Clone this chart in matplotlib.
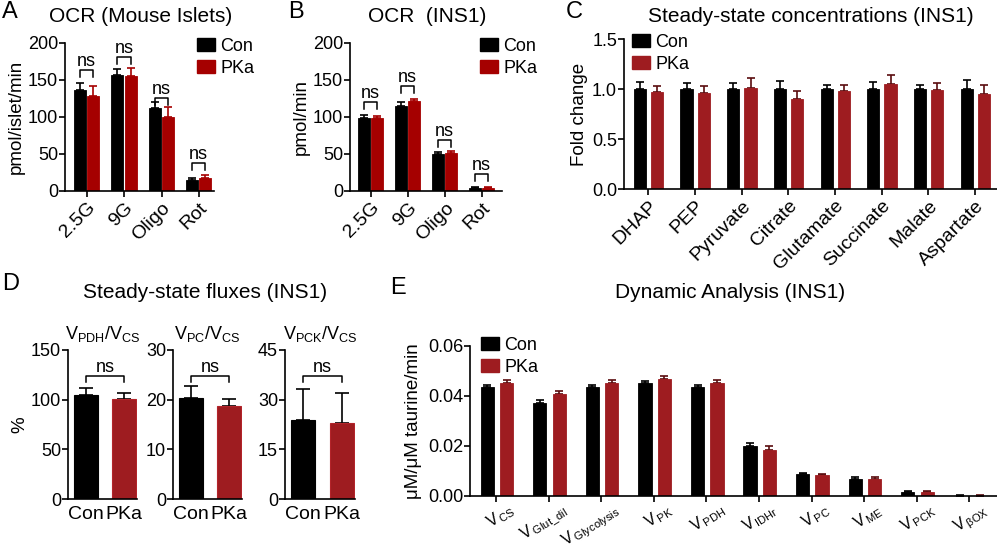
import numpy as np
import matplotlib.pyplot as plt
import matplotlib.transforms as mtransforms
from matplotlib.patches import Patch

plt.rcParams['font.family'] = ['Liberation Sans', 'DejaVu Sans']
plt.rcParams['mathtext.default'] = 'regular'

# ---- data ----
ocr_groups = ['2.5G', '9G', 'Oligo', 'Rot']
islet_con = [136, 157, 112, 15]
islet_con_err = [10, 8, 8, 3]
islet_pka = [129, 155, 100, 18]
islet_pka_err = [13, 11, 13, 3]
islet_ns = [163, 181, 125, 38]

ins1_con = [99, 115, 50, 4]
ins1_con_err = [4, 5, 3, 2]
ins1_pka = [99, 121, 51, 4]
ins1_pka_err = [3, 3, 3, 2]
ins1_ns = [120, 142, 69, 23]

metabolites = ['DHAP', 'PEP', 'Pyruvate', 'Citrate', 'Glutamate', 'Succinate', 'Malate', 'Aspartate']
conc_con = [1.0, 1.0, 1.0, 1.0, 1.0, 1.0, 1.0, 1.0]
conc_con_err = [0.07, 0.06, 0.06, 0.08, 0.04, 0.07, 0.04, 0.09]
conc_pka = [0.97, 0.96, 1.01, 0.90, 0.98, 1.05, 0.99, 0.95]
conc_pka_err = [0.06, 0.07, 0.10, 0.08, 0.06, 0.09, 0.07, 0.09]

flux_titles = ['V$_{PDH}$/V$_{CS}$', 'V$_{PC}$/V$_{CS}$', 'V$_{PCK}$/V$_{CS}$']
flux_con = [105, 20.4, 23.8]
flux_con_err = [7, 2.3, 9.5]
flux_pka = [101, 18.8, 23.0]
flux_pka_err = [6, 1.3, 9.0]
flux_ns = [124, 24.8, 37.2]
flux_yticks = [[0, 50, 100, 150], [0, 10, 20, 30], [0, 15, 30, 45]]

dyn_labels = ['V$_{\\,CS}$', 'V$_{\\,Glut\\_dil}$', 'V$_{\\,Glycolysis}$', 'V$_{\\,PK}$', 'V$_{\\,PDH}$',
              'V$_{\\,IDHr}$', 'V$_{\\,PC}$', 'V$_{\\,ME}$', 'V$_{\\,PCK}$', 'V$_{\\,βOX}$']
dyn_con = [0.0435, 0.0374, 0.0435, 0.0451, 0.0435, 0.0200, 0.0087, 0.0070, 0.0016, 0.0002]
dyn_con_err = [0.0011, 0.0011, 0.0010, 0.0011, 0.0010, 0.0013, 0.0004, 0.0007, 0.0004, 0.0001]
dyn_pka = [0.0451, 0.0407, 0.0451, 0.0468, 0.0451, 0.0183, 0.0084, 0.0067, 0.0015, 0.0002]
dyn_pka_err = [0.0014, 0.0015, 0.0013, 0.0013, 0.0013, 0.0016, 0.0003, 0.0008, 0.0006, 0.0001]

W, H = 997, 551
fig = plt.figure(figsize=(W/100, H/100), dpi=100)

RED_AB = '#a50000'
RED = '#9e1c20'
TICK = 13
XLAB = 14
YLAB = 13.5
TITLE = 15


def add_ax(x0, x1, ytop, ybot):
    return fig.add_axes([x0/W, 1-ybot/H, (x1-x0)/W, (ybot-ytop)/H])


def style(ax, xticklen=4):
    for s in ['top', 'right']:
        ax.spines[s].set_visible(False)
    for s in ['left', 'bottom']:
        ax.spines[s].set_linewidth(1.2)
    ax.tick_params(axis='y', length=4, width=1.2, labelsize=TICK, pad=1)
    ax.tick_params(axis='x', length=xticklen, width=1.2, labelsize=XLAB, pad=2)


def pairs(ax, con, con_err, pka, pka_err, oc, op, w, red, red_err):
    x = np.arange(len(con))
    ax.bar(x + oc, con, w, color='black', edgecolor='black', linewidth=0.6, zorder=2)
    ax.bar(x + op, pka, w, color=red, edgecolor=red, linewidth=0.6, zorder=2)
    ax.errorbar(x + oc, con, yerr=[np.zeros(len(con)), con_err], fmt='none',
                ecolor='black', elinewidth=1.2, capsize=3, capthick=1.2, zorder=1)
    ax.errorbar(x + op, pka, yerr=[np.zeros(len(pka)), pka_err], fmt='none',
                ecolor=red_err, elinewidth=1.2, capsize=3, capthick=1.2, zorder=1)
    return x


def bracket(ax, x1, x2, h, d, fs=TICK):
    ax.plot([x1, x1, x2, x2], [h - d, h, h, h - d], color='black', lw=1.1, clip_on=False)
    ax.text((x1 + x2) / 2, h, 'ns', ha='center', va='bottom', fontsize=fs)


def legend(ax, px, py, red, fs=13):
    handles = [Patch(facecolor='black', edgecolor='black'), Patch(facecolor=red, edgecolor=red)]
    ax.legend(handles, ['Con', 'PKa'], loc='upper left', bbox_to_anchor=(px/W, 1-py/H),
              bbox_transform=fig.transFigure, frameon=False, fontsize=fs,
              handlelength=1.0, handleheight=0.75, handletextpad=0.3,
              labelspacing=0.25, borderaxespad=0, borderpad=0)


def letter(x, y, s):
    fig.text(x/W, 1-y/H, s, fontsize=17, ha='left', va='center')


# ---- A ----
axA = add_ax(65, 214, 43, 191)
x = pairs(axA, islet_con, islet_con_err, islet_pka, islet_pka_err, -0.19, 0.17, 0.32, RED_AB, RED_AB)
axA.set_xlim(-0.59, 3.4)
axA.set_ylim(0, 200)
axA.set_yticks([0, 50, 100, 150, 200])
axA.set_xticks(x)
axA.set_xticklabels(ocr_groups, rotation=45, ha='right', rotation_mode='anchor')
axA.set_ylabel('pmol/islet/min', fontsize=YLAB, labelpad=2)
style(axA)
for i, h in enumerate(islet_ns):
    bracket(axA, i - 0.19, i + 0.17, h, 9)
legend(axA, 197, 38, RED_AB)
fig.text(141/W, 1-17/H, 'OCR (Mouse Islets)', fontsize=TITLE, ha='center', va='center')
letter(2, 12, 'A')

# ---- B ----
axB = add_ax(350, 502, 43, 191)
x = pairs(axB, ins1_con, ins1_con_err, ins1_pka, ins1_pka_err, -0.19, 0.17, 0.32, RED_AB, RED_AB)
axB.set_xlim(-0.57, 3.54)
axB.set_ylim(0, 200)
axB.set_yticks([0, 50, 100, 150, 200])
axB.set_xticks(x)
axB.set_xticklabels(ocr_groups, rotation=45, ha='right', rotation_mode='anchor')
axB.set_ylabel('pmol/min', fontsize=YLAB, labelpad=2)
style(axB)
for i, h in enumerate(ins1_ns):
    bracket(axB, i - 0.19, i + 0.17, h, 9)
legend(axB, 480, 38, RED_AB)
fig.text(427/W, 1-17/H, 'OCR  (INS1)', fontsize=TITLE, ha='center', va='center')
letter(288, 12, 'B')

# ---- C ----
axC = add_ax(624, 997, 39, 189)
x = pairs(axC, conc_con, conc_con_err, conc_pka, conc_pka_err, -0.18, 0.19, 0.26, RED, '#5a0c0e')
axC.set_xlim(-0.52, 7.47)
axC.set_ylim(0, 1.5)
axC.set_yticks([0, 0.5, 1.0, 1.5])
axC.set_yticklabels(['0.0', '0.5', '1.0', '1.5'])
axC.set_xticks(x)
axC.set_xticklabels(metabolites, rotation=45, ha='right', rotation_mode='anchor')
axC.set_ylabel('Fold change', fontsize=YLAB, labelpad=3)
style(axC)
legend(axC, 632, 34, RED)
fig.text(811/W, 1-16/H, 'Steady-state concentrations (INS1)', fontsize=TITLE, ha='center', va='center')
letter(566, 12, 'C')

# ---- D ----
d_boxes = [(68, 137), (173, 242), (285, 355)]
for k, (x0, x1) in enumerate(d_boxes):
    ax = add_ax(x0, x1, 350, 499)
    xs = np.arange(2)
    ax.bar(xs, [flux_con[k], flux_pka[k]], 0.63, color=['black', RED],
           edgecolor=['black', '#b3242a'], linewidth=0.8, zorder=2)
    ax.errorbar(xs, [flux_con[k], flux_pka[k]],
                yerr=[[0, 0], [flux_con_err[k], flux_pka_err[k]]], fmt='none',
                ecolor='black', elinewidth=1.2, capsize=5, capthick=1.2, zorder=1)
    ax.set_xlim(-0.47, 1.34)
    yt = flux_yticks[k]
    ax.set_ylim(0, yt[-1])
    ax.set_yticks(yt)
    ax.set_xticks(xs)
    ax.set_xticklabels(['Con', 'PKa'])
    style(ax, xticklen=0)
    ax.tick_params(axis='x', pad=5)
    bracket(ax, 0, 1, flux_ns[k], yt[-1] * 0.04)
    ax.set_title(flux_titles[k], fontsize=TICK, pad=8)
    if k == 0:
        ax.set_ylabel('%', fontsize=YLAB, labelpad=2)
fig.text(205/W, 1-293/H, 'Steady-state fluxes (INS1)', fontsize=TITLE, ha='center', va='center')
letter(2, 284, 'D')

# ---- E ----
axE = add_ax(470, 997, 346, 496)
x = pairs(axE, dyn_con, dyn_con_err, dyn_pka, dyn_pka_err, -0.17, 0.2, 0.25, RED, '#5a0c0e')
axE.set_xlim(-0.5, 9.53)
axE.set_ylim(0, 0.06)
axE.set_yticks([0, 0.02, 0.04, 0.06])
axE.set_yticklabels(['0.00', '0.02', '0.04', '0.06'])
axE.set_xticks(x)
axE.set_ylabel('μM/μM taurine/min', fontsize=YLAB, labelpad=4)
style(axE)
axE.set_xticklabels(dyn_labels, rotation=32, ha='right', rotation_mode='anchor', fontsize=11.5)
axE.tick_params(axis='x', pad=0)
shift = mtransforms.ScaledTranslation(0.12, 0.01, fig.dpi_scale_trans)
for lab in axE.get_xticklabels():
    lab.set_transform(lab.get_transform() + shift)
legend(axE, 481, 337, RED)
fig.text(730/W, 1-292/H, 'Dynamic Analysis (INS1)', fontsize=TITLE, ha='center', va='center')
letter(390, 288, 'E')

fig.savefig('out.png', dpi=100)
